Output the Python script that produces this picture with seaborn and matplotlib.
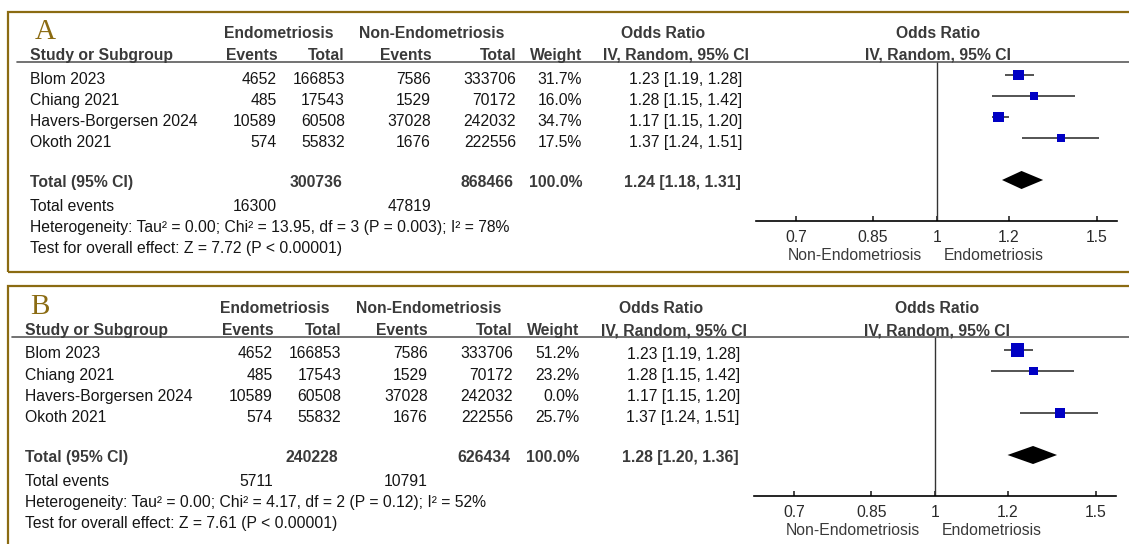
import numpy as np
import pandas as pd
import matplotlib
matplotlib.use("Agg")
import matplotlib.pyplot as plt
from matplotlib.patches import Rectangle
from matplotlib.lines import Line2D
from matplotlib.ticker import FixedLocator, NullLocator
import seaborn as sns

# ---- study-level data -------------------------------------------------------
studies = ["Blom 2023", "Chiang 2021", "Havers-Borgersen 2024", "Okoth 2021"]
endo_events = [4652, 485, 10589, 574]
endo_total = [166853, 17543, 60508, 55832]
non_events = [7586, 1529, 37028, 1676]
non_total = [333706, 70172, 242032, 222556]
odds_ratio = [1.23, 1.28, 1.17, 1.37]
ci_low = [1.19, 1.15, 1.15, 1.24]
ci_high = [1.28, 1.42, 1.20, 1.51]

# weights (%) for the two analyses (B leaves out Havers-Borgersen)
weights_a = [31.7, 16.0, 34.7, 17.5]
weights_b = [51.2, 23.2, 0.0, 25.7]

# pooled results, one entry per panel
panel_letters = ["A", "B"]
pooled_or = [1.24, 1.28]
pooled_low = [1.18, 1.20]
pooled_high = [1.31, 1.36]
sum_endo_total = [300736, 240228]
sum_non_total = [868466, 626434]
sum_endo_events = [16300, 5711]
sum_non_events = [47819, 10791]
heterogeneity = [
    "Heterogeneity: Tau\u00b2 = 0.00; Chi\u00b2 = 13.95, df = 3 (P = 0.003); I\u00b2 = 78%",
    "Heterogeneity: Tau\u00b2 = 0.00; Chi\u00b2 = 4.17, df = 2 (P = 0.12); I\u00b2 = 52%",
]
overall_effect = [
    "Test for overall effect: Z = 7.72 (P < 0.00001)",
    "Test for overall effect: Z = 7.61 (P < 0.00001)",
]

axis_ticks = [0.7, 0.85, 1, 1.2, 1.5]
axis_tick_labels = ["0.7", "0.85", "1", "1.2", "1.5"]
favours_left = "Non-Endometriosis"
favours_right = "Endometriosis"

# ---- styling ----------------------------------------------------------------
sns.set_style("white")
plt.rcParams["font.family"] = ["Liberation Sans", "DejaVu Sans"]

W, H = 1129, 544
FS = 11.3
GOLD = "#8b6b12"
BODY = "#151515"
HEAD = "#3a3a3a"
BLUE = "#0000c4"

fig = plt.figure(figsize=(W / 100, H / 100), dpi=100)


def pxy(p, x, y):
    """Pixel position inside panel p (0 = top, 1 = bottom)."""
    if p == 0:
        return x, y
    return 25 + (x - 30) * 1.004, y + 275


def put(p, x, y, s, ha="left", bold=False, color=None, **kw):
    X, Y = pxy(p, x, y)
    fig.text(X / W, 1 - Y / H, s, ha=ha, va="baseline", fontsize=kw.pop("fontsize", FS),
             fontweight="bold" if bold else "normal",
             color=color or (HEAD if bold else BODY), **kw)


def hline(x0, x1, y, color, lw):
    fig.add_artist(Line2D([x0 / W, x1 / W], [1 - y / H, 1 - y / H],
                          transform=fig.transFigure, color=color, lw=lw))


# panel frames
fig.add_artist(Rectangle((8 / W, 1 - 272 / H), 1140 / W, (272 - 11.5) / H,
                         transform=fig.transFigure, fill=False, ec=GOLD, lw=1.6))
fig.add_artist(Rectangle((8 / W, 1 - 570 / H), 1140 / W, (570 - 286) / H,
                         transform=fig.transFigure, fill=False, ec=GOLD, lw=1.6))

row_base = [83.5, 105, 126, 147]
row_mark = 75.0      # pixel y of first study row in the forest axes
row_step = 21.0

for p, weights in enumerate([weights_a, weights_b]):
    # panel letter
    put(p, 35, 39.3, panel_letters[p], color=GOLD, fontsize=21,
        family=["Liberation Serif", "DejaVu Serif"])

    # column headers
    put(p, 278.5, 38.3, "Endometriosis", ha="center", bold=True)
    put(p, 432, 38.3, "Non-Endometriosis", ha="center", bold=True)
    put(p, 663.5, 38.3, "Odds Ratio", ha="center", bold=True)
    put(p, 938, 38.3, "Odds Ratio", ha="center", bold=True)
    put(p, 30, 60, "Study or Subgroup", bold=True)
    put(p, 278, 60, "Events", ha="right", bold=True)
    put(p, 345, 60, "Total", ha="right", bold=True)
    put(p, 431.5, 60, "Events", ha="right", bold=True)
    put(p, 516, 60, "Total", ha="right", bold=True)
    put(p, 582, 60, "Weight", ha="right", bold=True)
    put(p, 749, 60, "IV, Random, 95% CI", ha="right", bold=True)
    put(p, 938, 60, "IV, Random, 95% CI", ha="center", bold=True)

    xa, ya = pxy(p, 17, 62.3)
    hline(xa, 1140, ya, "#5a5a5a", 1.2)

    # study rows
    for i, name in enumerate(studies):
        y = row_base[i]
        put(p, 30, y, name)
        put(p, 277, y, f"{endo_events[i]}", ha="right")
        put(p, 345, y, f"{endo_total[i]}", ha="right")
        put(p, 431, y, f"{non_events[i]}", ha="right")
        put(p, 516, y, f"{non_total[i]}", ha="right")
        put(p, 582, y, f"{weights[i]:.1f}%", ha="right")
        put(p, 742, y, f"{odds_ratio[i]:.2f} [{ci_low[i]:.2f}, {ci_high[i]:.2f}]", ha="right")

    # pooled row and footer
    put(p, 30, 187, "Total (95% CI)", bold=True)
    put(p, 342, 187, f"{sum_endo_total[p]}", ha="right", bold=True)
    put(p, 513.5, 187, f"{sum_non_total[p]}", ha="right", bold=True)
    put(p, 582, 187, "100.0%", ha="right", bold=True)
    put(p, 741, 187,
        f"{pooled_or[p]:.2f} [{pooled_low[p]:.2f}, {pooled_high[p]:.2f}]",
        ha="right", bold=True)
    put(p, 30, 211, "Total events")
    put(p, 277, 211, f"{sum_endo_events[p]}", ha="right")
    put(p, 431, 211, f"{sum_non_events[p]}", ha="right")
    put(p, 30, 232.3, heterogeneity[p])
    put(p, 30, 253.3, overall_effect[p])

    # forest plot axes
    x0, y0 = pxy(p, 756, 62.3)
    x1, y1 = pxy(p, 1117, 220.7)
    ax = fig.add_axes([x0 / W, 1 - y1 / H, (x1 - x0) / W, (y1 - y0) / H])
    ax.set_facecolor("none")

    df = pd.DataFrame({"study": studies, "or": odds_ratio, "lo": ci_low,
                       "hi": ci_high, "w": weights, "row": np.arange(len(studies))})
    shown = df[df["w"] > 0]
    ax.hlines(shown["row"], shown["lo"], shown["hi"], color="#454545", lw=1.3, zorder=2)
    sns.scatterplot(data=shown, x="or", y="row", size="w", sizes=(0, 177),
                    size_norm=(0, 100), marker="s", color=BLUE, linewidth=0,
                    legend=False, ax=ax, zorder=3)

    pr = 5
    ax.fill([pooled_low[p], pooled_or[p], pooled_high[p], pooled_or[p]],
            [pr, pr - 0.43, pr, pr + 0.43], color="black", lw=0, zorder=3)

    ax.axvline(1, color="#333333", lw=1.0, zorder=1)
    ax.set_xscale("log")
    ax.set_xlim(0.632, 1.58)
    ax.set_ylim((220.7 - row_mark) / row_step, (62.3 - row_mark) / row_step)
    ax.xaxis.set_major_locator(FixedLocator(axis_ticks))
    ax.xaxis.set_minor_locator(NullLocator())
    ax.set_xticklabels(axis_tick_labels)
    ax.set_yticks([])
    ax.set_xlabel("")
    ax.set_ylabel("")
    for side in ["left", "right", "top"]:
        ax.spines[side].set_visible(False)
    ax.spines["bottom"].set_color("black")
    ax.spines["bottom"].set_linewidth(1.2)
    ax.tick_params(axis="x", direction="in", length=3.8, width=1.2, pad=6.9,
                   labelsize=FS, labelcolor="#2a2a2a", bottom=True)

    put(p, 855, 260, favours_left, ha="center", color="#3a3a3a")
    put(p, 993.3, 260, favours_right, ha="center", color="#3a3a3a")

fig.savefig("out.png", dpi=100)
